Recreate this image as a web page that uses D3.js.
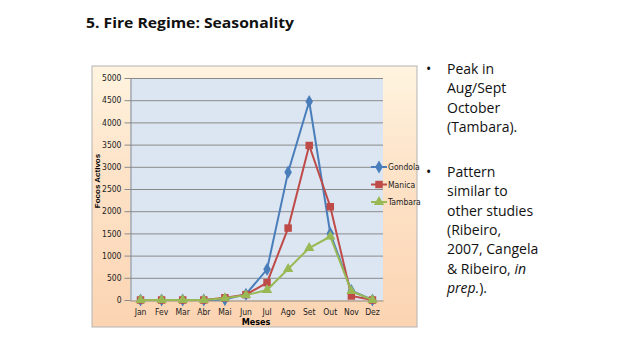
<!DOCTYPE html>
<html>
<head>
<meta charset="utf-8">
<script src="https://cdn.jsdelivr.net/npm/d3@7"></script>
<style>
  body { margin: 0; background: #fff; }
  svg { display: block; }
</style>
</head>
<body>
<div id="chart"></div>
<script>
const width = 638;
const height = 359;

// data
const months = ["Jan", "Fev", "Mar", "Abr", "Mai", "Jun", "Jul", "Ago", "Set", "Out", "Nov", "Dez"];
const gondola = [0, 0, 0, 0, 10, 130, 690, 2880, 4470, 1500, 210, 0];
const manica = [0, 0, 0, 0, 50, 120, 390, 1620, 3480, 2100, 90, 0];
const tambara = [0, 0, 0, 0, 40, 110, 225, 700, 1170, 1430, 200, 0];
const seriesNames = ["Gondola", "Manica", "Tambara"];
const yTicks = [0, 500, 1000, 1500, 2000, 2500, 3000, 3500, 4000, 4500, 5000];

const series = [
  { name: seriesNames[0], values: gondola, color: "#4a7ebb", symbol: d3.symbolDiamond, size: 50 },
  { name: seriesNames[1], values: manica, color: "#be4b48", symbol: d3.symbolSquare, size: 56 },
  { name: seriesNames[2], values: tambara, color: "#98b954", symbol: d3.symbolTriangle, size: 46 }
];

const plot = { left: 130, right: 383, top: 78, bottom: 300 };
const narrow = "'Liberation Sans Narrow', 'DejaVu Sans Condensed', sans-serif";
const bodyFont = "'Open Sans', 'Noto Sans', sans-serif";

const svg = d3.select("#chart")
  .append("svg")
  .attr("width", width)
  .attr("height", height);

// title
svg.append("text")
  .attr("x", 86)
  .attr("y", 28)
  .attr("textLength", 208)
  .attr("lengthAdjust", "spacingAndGlyphs")
  .style("font-family", bodyFont)
  .style("font-size", "15px")
  .style("font-weight", "bold")
  .style("fill", "#111")
  .text("5.  Fire Regime: Seasonality");

// chart frame
const defs = svg.append("defs");
const grad = defs.append("linearGradient")
  .attr("id", "bg")
  .attr("x1", 0).attr("y1", 0).attr("x2", 0).attr("y2", 1);
grad.append("stop").attr("offset", "0%").attr("stop-color", "#fff4e0");
grad.append("stop").attr("offset", "40%").attr("stop-color", "#fde3c8");
grad.append("stop").attr("offset", "100%").attr("stop-color", "#fbd4b2");

svg.append("rect")
  .attr("x", 92)
  .attr("y", 66)
  .attr("width", 325)
  .attr("height", 261)
  .attr("fill", "url(#bg)")
  .attr("stroke", "#b4b4b4")
  .attr("stroke-width", 1);

svg.append("rect")
  .attr("x", plot.left)
  .attr("y", plot.top)
  .attr("width", plot.right - plot.left)
  .attr("height", plot.bottom - plot.top)
  .attr("fill", "#dce6f2");

const xScale = d3.scaleBand()
  .domain(months)
  .range([plot.left, plot.right]);

const yScale = d3.scaleLinear()
  .domain([0, 5000])
  .range([plot.bottom, plot.top]);

// gridlines
svg.append("g")
  .selectAll("line")
  .data(yTicks.filter(d => d > 0))
  .enter()
  .append("line")
  .attr("x1", plot.left)
  .attr("x2", plot.right)
  .attr("y1", d => yScale(d) + 0.5)
  .attr("y2", d => yScale(d) + 0.5)
  .attr("stroke", "#8a8a8a")
  .attr("stroke-width", 1);

// y axis
const yAxis = svg.append("g")
  .attr("transform", `translate(${plot.left + 0.5},0)`)
  .call(d3.axisLeft(yScale).tickValues(yTicks).tickFormat(d3.format("d"))
    .tickSize(6).tickSizeOuter(0).tickPadding(3));
yAxis.select(".domain").attr("stroke", "#8a8a8a");
yAxis.selectAll(".tick line").attr("stroke", "#8a8a8a");
yAxis.selectAll("text")
  .style("font-family", narrow)
  .style("font-size", "8.5px")
  .style("fill", "#222");

// x axis
const xAxis = svg.append("g")
  .attr("transform", `translate(0,${plot.bottom + 0.5})`)
  .call(d3.axisBottom(xScale).tickSize(0).tickPadding(8));
xAxis.select(".domain").attr("stroke", "#8a8a8a");
xAxis.selectAll("text")
  .style("font-family", narrow)
  .style("font-size", "8.5px")
  .style("fill", "#222");

// axis titles
svg.append("text")
  .attr("transform", "translate(100,181) rotate(-90)")
  .attr("text-anchor", "middle")
  .style("font-family", "'Liberation Sans', sans-serif")
  .style("font-size", "8px")
  .style("font-weight", "bold")
  .text("Focos Activos");

svg.append("text")
  .attr("x", 256)
  .attr("y", 325)
  .attr("text-anchor", "middle")
  .style("font-family", narrow)
  .style("font-size", "9px")
  .style("font-weight", "bold")
  .text("Meses");

// lines and markers
const line = d3.line()
  .x((d, i) => xScale(months[i]) + xScale.bandwidth() / 2)
  .y(d => yScale(d));

series.forEach(s => {
  const g = svg.append("g");
  g.append("path")
    .datum(s.values)
    .attr("d", line)
    .attr("fill", "none")
    .attr("stroke", s.color)
    .attr("stroke-width", 2);
  g.selectAll("path.mark")
    .data(s.values)
    .enter()
    .append("path")
    .attr("class", "mark")
    .attr("d", d3.symbol().type(s.symbol).size(s.size))
    .attr("transform", (d, i) => `translate(${xScale(months[i]) + xScale.bandwidth() / 2},${yScale(d)})`)
    .attr("fill", s.color);
});

// legend
const legend = svg.append("g")
  .attr("transform", "translate(371,167)");

series.forEach((s, i) => {
  const row = legend.append("g")
    .attr("transform", `translate(0, ${i * 17.5})`);
  row.append("line")
    .attr("x1", 0)
    .attr("x2", 16)
    .attr("stroke", s.color)
    .attr("stroke-width", 2);
  row.append("path")
    .attr("d", d3.symbol().type(s.symbol).size(s.size))
    .attr("transform", "translate(8,0)")
    .attr("fill", s.color);
  row.append("text")
    .attr("x", 17)
    .attr("y", 3)
    .style("font-family", narrow)
    .style("font-size", "8.5px")
    .style("fill", "#222")
    .text(s.name);
});

// bullet text on the right
const bullets = [
  { y: 74, lines: [["Peak in"], ["Aug/Sept"], ["October"], ["(Tambara)."]] },
  { y: 177, lines: [["Pattern"], ["similar to"], ["other studies"], ["(Ribeiro,"], ["2007, Cangela"],
    ["& Ribeiro, ", ["in"]], [["prep."], ")."]] }
];

const notes = svg.append("g");
bullets.forEach(b => {
  notes.append("text")
    .attr("x", 426)
    .attr("y", b.y)
    .style("font-family", bodyFont)
    .style("font-size", "14px")
    .style("fill", "#111")
    .text("•");
  b.lines.forEach((parts, i) => {
    const t = notes.append("text")
      .attr("x", 447)
      .attr("y", b.y + i * 19.3)
      .style("font-family", bodyFont)
      .style("font-size", "14px")
      .style("fill", "#111");
    parts.forEach(p => {
      const italic = Array.isArray(p);
      t.append("tspan")
        .style("font-style", italic ? "italic" : "normal")
        .text(italic ? p[0] : p);
    });
  });
});
</script>
</body>
</html>
